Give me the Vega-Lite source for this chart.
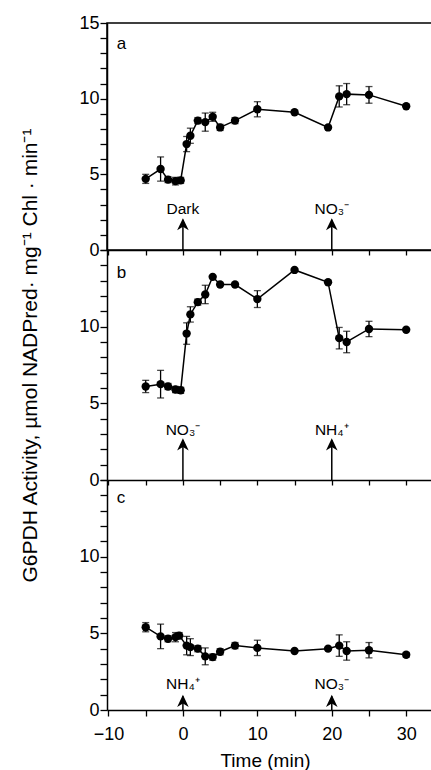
{
  "$schema": "https://vega.github.io/schema/vega-lite/v6.json",
  "padding": {"left": 18, "top": 13, "right": 0, "bottom": 0},
  "autosize": {"type": "pad"},
  "spacing": 0,
  "bounds": "flush",
  "config": {
    "view": {"stroke": null},
    "font": "Liberation Sans",
    "text": {"font": "Liberation Sans"},
    "axis": {"domainColor": "black", "tickColor": "black", "labelColor": "black", "titleColor": "black", "domainWidth": 1.5, "tickWidth": 1.3, "labelFont": "Liberation Sans", "titleFont": "Liberation Sans", "titleFontWeight": "normal", "grid": false}
  },
  "datasets": {
    "points": [
      {"panel": "a", "time": -5, "value": 4.7, "err": 0.3},
      {"panel": "a", "time": -3, "value": 5.35, "err": 0.8},
      {"panel": "a", "time": -2, "value": 4.65, "err": 0.2},
      {"panel": "a", "time": -1, "value": 4.55, "err": 0.25},
      {"panel": "a", "time": -0.3, "value": 4.6, "err": 0.2},
      {"panel": "a", "time": 0.5, "value": 7.0, "err": 0.5},
      {"panel": "a", "time": 1, "value": 7.55, "err": 0.5},
      {"panel": "a", "time": 2, "value": 8.55, "err": 0.2},
      {"panel": "a", "time": 3, "value": 8.45, "err": 0.6},
      {"panel": "a", "time": 4, "value": 8.8, "err": 0.3},
      {"panel": "a", "time": 5, "value": 8.1, "err": 0.2},
      {"panel": "a", "time": 7, "value": 8.55, "err": 0.2},
      {"panel": "a", "time": 10, "value": 9.3, "err": 0.5},
      {"panel": "a", "time": 15, "value": 9.1, "err": 0},
      {"panel": "a", "time": 19.5, "value": 8.1, "err": 0},
      {"panel": "a", "time": 21, "value": 10.15, "err": 0.7},
      {"panel": "a", "time": 22, "value": 10.3, "err": 0.7},
      {"panel": "a", "time": 25, "value": 10.25, "err": 0.55},
      {"panel": "a", "time": 30, "value": 9.5, "err": 0},
      {"panel": "b", "time": -5, "value": 6.1, "err": 0.4},
      {"panel": "b", "time": -3, "value": 6.25, "err": 0.9},
      {"panel": "b", "time": -2, "value": 6.1, "err": 0.2},
      {"panel": "b", "time": -1, "value": 5.9, "err": 0.2},
      {"panel": "b", "time": -0.3, "value": 5.85, "err": 0.2},
      {"panel": "b", "time": 0.5, "value": 9.55, "err": 0.7},
      {"panel": "b", "time": 1, "value": 10.8, "err": 0.5},
      {"panel": "b", "time": 2, "value": 11.6, "err": 0.2},
      {"panel": "b", "time": 3, "value": 12.1, "err": 0.6},
      {"panel": "b", "time": 4, "value": 13.25, "err": 0},
      {"panel": "b", "time": 5, "value": 12.75, "err": 0},
      {"panel": "b", "time": 7, "value": 12.75, "err": 0},
      {"panel": "b", "time": 10, "value": 11.8, "err": 0.55},
      {"panel": "b", "time": 15, "value": 13.7, "err": 0},
      {"panel": "b", "time": 19.5, "value": 12.9, "err": 0},
      {"panel": "b", "time": 21, "value": 9.25, "err": 0.7},
      {"panel": "b", "time": 22, "value": 9.0, "err": 0.7},
      {"panel": "b", "time": 25, "value": 9.85, "err": 0.5},
      {"panel": "b", "time": 30, "value": 9.8, "err": 0},
      {"panel": "c", "time": -5, "value": 5.4, "err": 0.3},
      {"panel": "c", "time": -3, "value": 4.8, "err": 0.8},
      {"panel": "c", "time": -2, "value": 4.65, "err": 0.2},
      {"panel": "c", "time": -1, "value": 4.75, "err": 0.3},
      {"panel": "c", "time": -0.5, "value": 4.85, "err": 0.2},
      {"panel": "c", "time": 0.5, "value": 4.2, "err": 0.6},
      {"panel": "c", "time": 1, "value": 4.1, "err": 0.55},
      {"panel": "c", "time": 2, "value": 4.0, "err": 0.2},
      {"panel": "c", "time": 3, "value": 3.5, "err": 0.55},
      {"panel": "c", "time": 4, "value": 3.45, "err": 0.2},
      {"panel": "c", "time": 5, "value": 3.8, "err": 0.2},
      {"panel": "c", "time": 7, "value": 4.2, "err": 0.2},
      {"panel": "c", "time": 10, "value": 4.05, "err": 0.5},
      {"panel": "c", "time": 15, "value": 3.85, "err": 0},
      {"panel": "c", "time": 19.5, "value": 4.0, "err": 0},
      {"panel": "c", "time": 21, "value": 4.2, "err": 0.7},
      {"panel": "c", "time": 22, "value": 3.85, "err": 0.6},
      {"panel": "c", "time": 25, "value": 3.9, "err": 0.5},
      {"panel": "c", "time": 30, "value": 3.6, "err": 0.15}
    ],
    "events": [
      {"panel": "a", "time": 0, "label": "Dark"},
      {"panel": "a", "time": 20, "label": "NO₃⁻"},
      {"panel": "b", "time": 0, "label": "NO₃⁻"},
      {"panel": "b", "time": 20, "label": "NH₄⁺"},
      {"panel": "c", "time": 0, "label": "NH₄⁺"},
      {"panel": "c", "time": 20, "label": "NO₃⁻"}
    ],
    "panels": [
      {"panel": "a", "letter": "a"},
      {"panel": "b", "letter": "b"},
      {"panel": "c", "letter": "c"}
    ]
  },
  "vconcat": [
    {
      "width": 326, "height": 227,
      "view": {"stroke": "black", "strokeWidth": 1.5},
      "layer": [
        {"data": {"name": "points"}, "transform": [{"filter": "datum.panel === 'a'"}], "mark": {"type": "line", "color": "black", "strokeWidth": 1.5},
          "encoding": {
            "x": {"field": "time", "type": "quantitative", "scale": {"domain": [-10.2, 33.6], "nice": false, "zero": false}, "axis": {"values": [-10, -5, 0, 5, 10, 15, 20, 25, 30], "labels": false, "title": null, "tickSize": 5, "encode": {"ticks": {"update": {"y2": {"signal": "datum.value % 10 === 0 ? -5 : -2"}}}}}},
            "y": {"field": "value", "type": "quantitative", "scale": {"domain": [0, 15], "nice": false}, "axis": {"values": [0, 1, 2, 3, 4, 5, 6, 7, 8, 9, 10, 11, 12, 13, 14, 15], "labelExpr": "datum.value % 5 === 0 ? datum.label : ''", "tickSize": 7, "labelPadding": 1, "labelFontSize": 18, "labelOverlap": false, "labelBound": false, "labelFlush": false, "title": null, "encode": {"ticks": {"update": {"x2": {"signal": "datum.value % 5 === 0 ? -7 : -4"}}}}}}
          }},
        {"data": {"name": "points"}, "transform": [{"filter": "datum.panel === 'a' && datum.err > 0"}], "mark": {"type": "errorbar", "color": "black", "thickness": 1.3, "ticks": {"size": 7, "thickness": 1.3, "color": "black"}},
          "encoding": {
            "x": {"field": "time", "type": "quantitative", "scale": {"domain": [-10.2, 33.6], "nice": false, "zero": false}, "axis": {"values": [-10, -5, 0, 5, 10, 15, 20, 25, 30], "labels": false, "title": null, "tickSize": 5, "encode": {"ticks": {"update": {"y2": {"signal": "datum.value % 10 === 0 ? -5 : -2"}}}}}},
            "y": {"field": "value", "type": "quantitative", "scale": {"domain": [0, 15], "nice": false}, "axis": {"values": [0, 1, 2, 3, 4, 5, 6, 7, 8, 9, 10, 11, 12, 13, 14, 15], "labelExpr": "datum.value % 5 === 0 ? datum.label : ''", "tickSize": 7, "labelPadding": 1, "labelFontSize": 18, "labelOverlap": false, "labelBound": false, "labelFlush": false, "title": null, "encode": {"ticks": {"update": {"x2": {"signal": "datum.value % 5 === 0 ? -7 : -4"}}}}}},
            "yError": {"field": "err"}
          }},
        {"data": {"name": "points"}, "transform": [{"filter": "datum.panel === 'a'"}], "mark": {"type": "point", "shape": "circle", "filled": true, "opacity": 1, "size": 70, "color": "black"},
          "encoding": {
            "x": {"field": "time", "type": "quantitative", "scale": {"domain": [-10.2, 33.6], "nice": false, "zero": false}, "axis": {"values": [-10, -5, 0, 5, 10, 15, 20, 25, 30], "labels": false, "title": null, "tickSize": 5, "encode": {"ticks": {"update": {"y2": {"signal": "datum.value % 10 === 0 ? -5 : -2"}}}}}},
            "y": {"field": "value", "type": "quantitative", "scale": {"domain": [0, 15], "nice": false}, "axis": {"values": [0, 1, 2, 3, 4, 5, 6, 7, 8, 9, 10, 11, 12, 13, 14, 15], "labelExpr": "datum.value % 5 === 0 ? datum.label : ''", "tickSize": 7, "labelPadding": 1, "labelFontSize": 18, "labelOverlap": false, "labelBound": false, "labelFlush": false, "title": null, "encode": {"ticks": {"update": {"x2": {"signal": "datum.value % 5 === 0 ? -7 : -4"}}}}}}
          }},
        {"data": {"name": "events"}, "transform": [{"filter": "datum.panel === 'a'"}], "mark": {"type": "rule", "color": "black", "strokeWidth": 1.5},
          "encoding": {
            "x": {"field": "time", "type": "quantitative", "scale": {"domain": [-10.2, 33.6], "nice": false, "zero": false}, "axis": {"values": [-10, -5, 0, 5, 10, 15, 20, 25, 30], "labels": false, "title": null, "tickSize": 5, "encode": {"ticks": {"update": {"y2": {"signal": "datum.value % 10 === 0 ? -5 : -2"}}}}}},
            "y": {"datum": 0, "type": "quantitative", "scale": {"domain": [0, 15], "nice": false}, "axis": {"values": [0, 1, 2, 3, 4, 5, 6, 7, 8, 9, 10, 11, 12, 13, 14, 15], "labelExpr": "datum.value % 5 === 0 ? datum.label : ''", "tickSize": 7, "labelPadding": 1, "labelFontSize": 18, "labelOverlap": false, "labelBound": false, "labelFlush": false, "title": null, "encode": {"ticks": {"update": {"x2": {"signal": "datum.value % 5 === 0 ? -7 : -4"}}}}}},
            "y2": {"datum": 2.0}
          }},
        {"data": {"name": "events"}, "transform": [{"filter": "datum.panel === 'a'"}], "mark": {"type": "point", "shape": "M0,-1L0.9,0.9L0,0.35L-0.9,0.9Z", "filled": true, "opacity": 1, "size": 165, "color": "black"},
          "encoding": {
            "x": {"field": "time", "type": "quantitative", "scale": {"domain": [-10.2, 33.6], "nice": false, "zero": false}, "axis": {"values": [-10, -5, 0, 5, 10, 15, 20, 25, 30], "labels": false, "title": null, "tickSize": 5, "encode": {"ticks": {"update": {"y2": {"signal": "datum.value % 10 === 0 ? -5 : -2"}}}}}},
            "y": {"datum": 1.68, "type": "quantitative", "scale": {"domain": [0, 15], "nice": false}, "axis": {"values": [0, 1, 2, 3, 4, 5, 6, 7, 8, 9, 10, 11, 12, 13, 14, 15], "labelExpr": "datum.value % 5 === 0 ? datum.label : ''", "tickSize": 7, "labelPadding": 1, "labelFontSize": 18, "labelOverlap": false, "labelBound": false, "labelFlush": false, "title": null, "encode": {"ticks": {"update": {"x2": {"signal": "datum.value % 5 === 0 ? -7 : -4"}}}}}}
          }},
        {"data": {"name": "events"}, "transform": [{"filter": "datum.panel === 'a'"}], "mark": {"type": "text", "fontSize": 15.5, "align": "center", "baseline": "alphabetic", "color": "black"},
          "encoding": {
            "x": {"field": "time", "type": "quantitative", "scale": {"domain": [-10.2, 33.6], "nice": false, "zero": false}, "axis": {"values": [-10, -5, 0, 5, 10, 15, 20, 25, 30], "labels": false, "title": null, "tickSize": 5, "encode": {"ticks": {"update": {"y2": {"signal": "datum.value % 10 === 0 ? -5 : -2"}}}}}},
            "y": {"datum": 2.35, "type": "quantitative", "scale": {"domain": [0, 15], "nice": false}, "axis": {"values": [0, 1, 2, 3, 4, 5, 6, 7, 8, 9, 10, 11, 12, 13, 14, 15], "labelExpr": "datum.value % 5 === 0 ? datum.label : ''", "tickSize": 7, "labelPadding": 1, "labelFontSize": 18, "labelOverlap": false, "labelBound": false, "labelFlush": false, "title": null, "encode": {"ticks": {"update": {"x2": {"signal": "datum.value % 5 === 0 ? -7 : -4"}}}}}},
            "text": {"field": "label"}
          }},
        {"data": {"name": "panels"}, "transform": [{"filter": "datum.panel === 'a'"}], "mark": {"type": "text", "fontSize": 17, "align": "left", "baseline": "alphabetic", "color": "black"},
          "encoding": {
            "x": {"datum": -8.9, "type": "quantitative", "scale": {"domain": [-10.2, 33.6], "nice": false, "zero": false}, "axis": {"values": [-10, -5, 0, 5, 10, 15, 20, 25, 30], "labels": false, "title": null, "tickSize": 5, "encode": {"ticks": {"update": {"y2": {"signal": "datum.value % 10 === 0 ? -5 : -2"}}}}}},
            "y": {"datum": 13.3, "type": "quantitative", "scale": {"domain": [0, 15], "nice": false}, "axis": {"values": [0, 1, 2, 3, 4, 5, 6, 7, 8, 9, 10, 11, 12, 13, 14, 15], "labelExpr": "datum.value % 5 === 0 ? datum.label : ''", "tickSize": 7, "labelPadding": 1, "labelFontSize": 18, "labelOverlap": false, "labelBound": false, "labelFlush": false, "title": null, "encode": {"ticks": {"update": {"x2": {"signal": "datum.value % 5 === 0 ? -7 : -4"}}}}}},
            "text": {"field": "letter"}
          }}
      ]
    },
    {
      "width": 326, "height": 230,
      "layer": [
        {"data": {"name": "points"}, "transform": [{"filter": "datum.panel === 'b'"}], "mark": {"type": "line", "color": "black", "strokeWidth": 1.5},
          "encoding": {
            "x": {"field": "time", "type": "quantitative", "scale": {"domain": [-10.2, 33.6], "nice": false, "zero": false}, "axis": {"values": [-10, -5, 0, 5, 10, 15, 20, 25, 30], "labels": false, "title": null, "tickSize": 5, "encode": {"ticks": {"update": {"y2": {"signal": "datum.value % 10 === 0 ? -5 : -2"}}}}}},
            "y": {"field": "value", "type": "quantitative", "scale": {"domain": [0, 15], "nice": false}, "axis": {"values": [0, 1, 2, 3, 4, 5, 6, 7, 8, 9, 10, 11, 12, 13, 14, 15], "labelExpr": "datum.value % 5 === 0 && datum.value < 15 ? datum.label : ''", "tickSize": 7, "labelPadding": 1, "labelFontSize": 18, "labelOverlap": false, "labelBound": false, "labelFlush": false, "title": "G6PDH Activity, µmol NADPred· mg⁻¹ Chl · min⁻¹", "titleFontSize": 21, "titleAngle": 270, "titleBaseline": "bottom", "titleAlign": "center", "titleX": -67, "titleY": 105, "encode": {"ticks": {"update": {"x2": {"signal": "datum.value % 5 === 0 ? -7 : -4"}}}}}}
          }},
        {"data": {"name": "points"}, "transform": [{"filter": "datum.panel === 'b' && datum.err > 0"}], "mark": {"type": "errorbar", "color": "black", "thickness": 1.3, "ticks": {"size": 7, "thickness": 1.3, "color": "black"}},
          "encoding": {
            "x": {"field": "time", "type": "quantitative", "scale": {"domain": [-10.2, 33.6], "nice": false, "zero": false}, "axis": {"values": [-10, -5, 0, 5, 10, 15, 20, 25, 30], "labels": false, "title": null, "tickSize": 5, "encode": {"ticks": {"update": {"y2": {"signal": "datum.value % 10 === 0 ? -5 : -2"}}}}}},
            "y": {"field": "value", "type": "quantitative", "scale": {"domain": [0, 15], "nice": false}, "axis": {"values": [0, 1, 2, 3, 4, 5, 6, 7, 8, 9, 10, 11, 12, 13, 14, 15], "labelExpr": "datum.value % 5 === 0 && datum.value < 15 ? datum.label : ''", "tickSize": 7, "labelPadding": 1, "labelFontSize": 18, "labelOverlap": false, "labelBound": false, "labelFlush": false, "title": "G6PDH Activity, µmol NADPred· mg⁻¹ Chl · min⁻¹", "titleFontSize": 21, "titleAngle": 270, "titleBaseline": "bottom", "titleAlign": "center", "titleX": -67, "titleY": 105, "encode": {"ticks": {"update": {"x2": {"signal": "datum.value % 5 === 0 ? -7 : -4"}}}}}},
            "yError": {"field": "err"}
          }},
        {"data": {"name": "points"}, "transform": [{"filter": "datum.panel === 'b'"}], "mark": {"type": "point", "shape": "circle", "filled": true, "opacity": 1, "size": 70, "color": "black"},
          "encoding": {
            "x": {"field": "time", "type": "quantitative", "scale": {"domain": [-10.2, 33.6], "nice": false, "zero": false}, "axis": {"values": [-10, -5, 0, 5, 10, 15, 20, 25, 30], "labels": false, "title": null, "tickSize": 5, "encode": {"ticks": {"update": {"y2": {"signal": "datum.value % 10 === 0 ? -5 : -2"}}}}}},
            "y": {"field": "value", "type": "quantitative", "scale": {"domain": [0, 15], "nice": false}, "axis": {"values": [0, 1, 2, 3, 4, 5, 6, 7, 8, 9, 10, 11, 12, 13, 14, 15], "labelExpr": "datum.value % 5 === 0 && datum.value < 15 ? datum.label : ''", "tickSize": 7, "labelPadding": 1, "labelFontSize": 18, "labelOverlap": false, "labelBound": false, "labelFlush": false, "title": "G6PDH Activity, µmol NADPred· mg⁻¹ Chl · min⁻¹", "titleFontSize": 21, "titleAngle": 270, "titleBaseline": "bottom", "titleAlign": "center", "titleX": -67, "titleY": 105, "encode": {"ticks": {"update": {"x2": {"signal": "datum.value % 5 === 0 ? -7 : -4"}}}}}}
          }},
        {"data": {"name": "events"}, "transform": [{"filter": "datum.panel === 'b'"}], "mark": {"type": "rule", "color": "black", "strokeWidth": 1.5},
          "encoding": {
            "x": {"field": "time", "type": "quantitative", "scale": {"domain": [-10.2, 33.6], "nice": false, "zero": false}, "axis": {"values": [-10, -5, 0, 5, 10, 15, 20, 25, 30], "labels": false, "title": null, "tickSize": 5, "encode": {"ticks": {"update": {"y2": {"signal": "datum.value % 10 === 0 ? -5 : -2"}}}}}},
            "y": {"datum": 0, "type": "quantitative", "scale": {"domain": [0, 15], "nice": false}, "axis": {"values": [0, 1, 2, 3, 4, 5, 6, 7, 8, 9, 10, 11, 12, 13, 14, 15], "labelExpr": "datum.value % 5 === 0 && datum.value < 15 ? datum.label : ''", "tickSize": 7, "labelPadding": 1, "labelFontSize": 18, "labelOverlap": false, "labelBound": false, "labelFlush": false, "title": "G6PDH Activity, µmol NADPred· mg⁻¹ Chl · min⁻¹", "titleFontSize": 21, "titleAngle": 270, "titleBaseline": "bottom", "titleAlign": "center", "titleX": -67, "titleY": 105, "encode": {"ticks": {"update": {"x2": {"signal": "datum.value % 5 === 0 ? -7 : -4"}}}}}},
            "y2": {"datum": 2.6}
          }},
        {"data": {"name": "events"}, "transform": [{"filter": "datum.panel === 'b'"}], "mark": {"type": "point", "shape": "M0,-1L0.9,0.9L0,0.35L-0.9,0.9Z", "filled": true, "opacity": 1, "size": 165, "color": "black"},
          "encoding": {
            "x": {"field": "time", "type": "quantitative", "scale": {"domain": [-10.2, 33.6], "nice": false, "zero": false}, "axis": {"values": [-10, -5, 0, 5, 10, 15, 20, 25, 30], "labels": false, "title": null, "tickSize": 5, "encode": {"ticks": {"update": {"y2": {"signal": "datum.value % 10 === 0 ? -5 : -2"}}}}}},
            "y": {"datum": 2.3, "type": "quantitative", "scale": {"domain": [0, 15], "nice": false}, "axis": {"values": [0, 1, 2, 3, 4, 5, 6, 7, 8, 9, 10, 11, 12, 13, 14, 15], "labelExpr": "datum.value % 5 === 0 && datum.value < 15 ? datum.label : ''", "tickSize": 7, "labelPadding": 1, "labelFontSize": 18, "labelOverlap": false, "labelBound": false, "labelFlush": false, "title": "G6PDH Activity, µmol NADPred· mg⁻¹ Chl · min⁻¹", "titleFontSize": 21, "titleAngle": 270, "titleBaseline": "bottom", "titleAlign": "center", "titleX": -67, "titleY": 105, "encode": {"ticks": {"update": {"x2": {"signal": "datum.value % 5 === 0 ? -7 : -4"}}}}}}
          }},
        {"data": {"name": "events"}, "transform": [{"filter": "datum.panel === 'b'"}], "mark": {"type": "text", "fontSize": 15.5, "align": "center", "baseline": "alphabetic", "color": "black"},
          "encoding": {
            "x": {"field": "time", "type": "quantitative", "scale": {"domain": [-10.2, 33.6], "nice": false, "zero": false}, "axis": {"values": [-10, -5, 0, 5, 10, 15, 20, 25, 30], "labels": false, "title": null, "tickSize": 5, "encode": {"ticks": {"update": {"y2": {"signal": "datum.value % 10 === 0 ? -5 : -2"}}}}}},
            "y": {"datum": 2.95, "type": "quantitative", "scale": {"domain": [0, 15], "nice": false}, "axis": {"values": [0, 1, 2, 3, 4, 5, 6, 7, 8, 9, 10, 11, 12, 13, 14, 15], "labelExpr": "datum.value % 5 === 0 && datum.value < 15 ? datum.label : ''", "tickSize": 7, "labelPadding": 1, "labelFontSize": 18, "labelOverlap": false, "labelBound": false, "labelFlush": false, "title": "G6PDH Activity, µmol NADPred· mg⁻¹ Chl · min⁻¹", "titleFontSize": 21, "titleAngle": 270, "titleBaseline": "bottom", "titleAlign": "center", "titleX": -67, "titleY": 105, "encode": {"ticks": {"update": {"x2": {"signal": "datum.value % 5 === 0 ? -7 : -4"}}}}}},
            "text": {"field": "label"}
          }},
        {"data": {"name": "panels"}, "transform": [{"filter": "datum.panel === 'b'"}], "mark": {"type": "text", "fontSize": 17, "align": "left", "baseline": "alphabetic", "color": "black"},
          "encoding": {
            "x": {"datum": -8.9, "type": "quantitative", "scale": {"domain": [-10.2, 33.6], "nice": false, "zero": false}, "axis": {"values": [-10, -5, 0, 5, 10, 15, 20, 25, 30], "labels": false, "title": null, "tickSize": 5, "encode": {"ticks": {"update": {"y2": {"signal": "datum.value % 10 === 0 ? -5 : -2"}}}}}},
            "y": {"datum": 13.2, "type": "quantitative", "scale": {"domain": [0, 15], "nice": false}, "axis": {"values": [0, 1, 2, 3, 4, 5, 6, 7, 8, 9, 10, 11, 12, 13, 14, 15], "labelExpr": "datum.value % 5 === 0 && datum.value < 15 ? datum.label : ''", "tickSize": 7, "labelPadding": 1, "labelFontSize": 18, "labelOverlap": false, "labelBound": false, "labelFlush": false, "title": "G6PDH Activity, µmol NADPred· mg⁻¹ Chl · min⁻¹", "titleFontSize": 21, "titleAngle": 270, "titleBaseline": "bottom", "titleAlign": "center", "titleX": -67, "titleY": 105, "encode": {"ticks": {"update": {"x2": {"signal": "datum.value % 5 === 0 ? -7 : -4"}}}}}},
            "text": {"field": "letter"}
          }}
      ]
    },
    {
      "width": 326, "height": 230,
      "layer": [
        {"data": {"name": "points"}, "transform": [{"filter": "datum.panel === 'c'"}], "mark": {"type": "line", "color": "black", "strokeWidth": 1.5},
          "encoding": {
            "x": {"field": "time", "type": "quantitative", "scale": {"domain": [-10.2, 33.6], "nice": false, "zero": false}, "axis": {"values": [-10, -5, 0, 5, 10, 15, 20, 25, 30], "labelExpr": "datum.value % 10 === 0 ? datum.label : ''", "labelFontSize": 18, "labelPadding": 23, "labelBaseline": "alphabetic", "labelOverlap": false, "labelFlush": false, "tickSize": 6, "title": "Time (min)", "titleFontSize": 19, "titleX": 158, "titleY": 56.5, "titleBaseline": "alphabetic", "titleAlign": "center", "encode": {"ticks": {"update": {"y2": {"signal": "datum.value % 10 === 0 ? 6 : 3"}}}}}},
            "y": {"field": "value", "type": "quantitative", "scale": {"domain": [0, 15], "nice": false}, "axis": {"values": [0, 1, 2, 3, 4, 5, 6, 7, 8, 9, 10, 11, 12, 13, 14, 15], "labelExpr": "datum.value % 5 === 0 && datum.value < 15 ? datum.label : ''", "tickSize": 7, "labelPadding": 1, "labelFontSize": 18, "labelOverlap": false, "labelBound": false, "labelFlush": false, "title": null, "encode": {"ticks": {"update": {"x2": {"signal": "datum.value % 5 === 0 ? -7 : -4"}}}}}}
          }},
        {"data": {"name": "points"}, "transform": [{"filter": "datum.panel === 'c' && datum.err > 0"}], "mark": {"type": "errorbar", "color": "black", "thickness": 1.3, "ticks": {"size": 7, "thickness": 1.3, "color": "black"}},
          "encoding": {
            "x": {"field": "time", "type": "quantitative", "scale": {"domain": [-10.2, 33.6], "nice": false, "zero": false}, "axis": {"values": [-10, -5, 0, 5, 10, 15, 20, 25, 30], "labelExpr": "datum.value % 10 === 0 ? datum.label : ''", "labelFontSize": 18, "labelPadding": 23, "labelBaseline": "alphabetic", "labelOverlap": false, "labelFlush": false, "tickSize": 6, "title": "Time (min)", "titleFontSize": 19, "titleX": 158, "titleY": 56.5, "titleBaseline": "alphabetic", "titleAlign": "center", "encode": {"ticks": {"update": {"y2": {"signal": "datum.value % 10 === 0 ? 6 : 3"}}}}}},
            "y": {"field": "value", "type": "quantitative", "scale": {"domain": [0, 15], "nice": false}, "axis": {"values": [0, 1, 2, 3, 4, 5, 6, 7, 8, 9, 10, 11, 12, 13, 14, 15], "labelExpr": "datum.value % 5 === 0 && datum.value < 15 ? datum.label : ''", "tickSize": 7, "labelPadding": 1, "labelFontSize": 18, "labelOverlap": false, "labelBound": false, "labelFlush": false, "title": null, "encode": {"ticks": {"update": {"x2": {"signal": "datum.value % 5 === 0 ? -7 : -4"}}}}}},
            "yError": {"field": "err"}
          }},
        {"data": {"name": "points"}, "transform": [{"filter": "datum.panel === 'c'"}], "mark": {"type": "point", "shape": "circle", "filled": true, "opacity": 1, "size": 70, "color": "black"},
          "encoding": {
            "x": {"field": "time", "type": "quantitative", "scale": {"domain": [-10.2, 33.6], "nice": false, "zero": false}, "axis": {"values": [-10, -5, 0, 5, 10, 15, 20, 25, 30], "labelExpr": "datum.value % 10 === 0 ? datum.label : ''", "labelFontSize": 18, "labelPadding": 23, "labelBaseline": "alphabetic", "labelOverlap": false, "labelFlush": false, "tickSize": 6, "title": "Time (min)", "titleFontSize": 19, "titleX": 158, "titleY": 56.5, "titleBaseline": "alphabetic", "titleAlign": "center", "encode": {"ticks": {"update": {"y2": {"signal": "datum.value % 10 === 0 ? 6 : 3"}}}}}},
            "y": {"field": "value", "type": "quantitative", "scale": {"domain": [0, 15], "nice": false}, "axis": {"values": [0, 1, 2, 3, 4, 5, 6, 7, 8, 9, 10, 11, 12, 13, 14, 15], "labelExpr": "datum.value % 5 === 0 && datum.value < 15 ? datum.label : ''", "tickSize": 7, "labelPadding": 1, "labelFontSize": 18, "labelOverlap": false, "labelBound": false, "labelFlush": false, "title": null, "encode": {"ticks": {"update": {"x2": {"signal": "datum.value % 5 === 0 ? -7 : -4"}}}}}}
          }},
        {"data": {"name": "events"}, "transform": [{"filter": "datum.panel === 'c'"}], "mark": {"type": "rule", "color": "black", "strokeWidth": 1.5},
          "encoding": {
            "x": {"field": "time", "type": "quantitative", "scale": {"domain": [-10.2, 33.6], "nice": false, "zero": false}, "axis": {"values": [-10, -5, 0, 5, 10, 15, 20, 25, 30], "labelExpr": "datum.value % 10 === 0 ? datum.label : ''", "labelFontSize": 18, "labelPadding": 23, "labelBaseline": "alphabetic", "labelOverlap": false, "labelFlush": false, "tickSize": 6, "title": "Time (min)", "titleFontSize": 19, "titleX": 158, "titleY": 56.5, "titleBaseline": "alphabetic", "titleAlign": "center", "encode": {"ticks": {"update": {"y2": {"signal": "datum.value % 10 === 0 ? 6 : 3"}}}}}},
            "y": {"datum": 0, "type": "quantitative", "scale": {"domain": [0, 15], "nice": false}, "axis": {"values": [0, 1, 2, 3, 4, 5, 6, 7, 8, 9, 10, 11, 12, 13, 14, 15], "labelExpr": "datum.value % 5 === 0 && datum.value < 15 ? datum.label : ''", "tickSize": 7, "labelPadding": 1, "labelFontSize": 18, "labelOverlap": false, "labelBound": false, "labelFlush": false, "title": null, "encode": {"ticks": {"update": {"x2": {"signal": "datum.value % 5 === 0 ? -7 : -4"}}}}}},
            "y2": {"datum": 0.9}
          }},
        {"data": {"name": "events"}, "transform": [{"filter": "datum.panel === 'c'"}], "mark": {"type": "point", "shape": "M0,-1L0.9,0.9L0,0.35L-0.9,0.9Z", "filled": true, "opacity": 1, "size": 165, "color": "black"},
          "encoding": {
            "x": {"field": "time", "type": "quantitative", "scale": {"domain": [-10.2, 33.6], "nice": false, "zero": false}, "axis": {"values": [-10, -5, 0, 5, 10, 15, 20, 25, 30], "labelExpr": "datum.value % 10 === 0 ? datum.label : ''", "labelFontSize": 18, "labelPadding": 23, "labelBaseline": "alphabetic", "labelOverlap": false, "labelFlush": false, "tickSize": 6, "title": "Time (min)", "titleFontSize": 19, "titleX": 158, "titleY": 56.5, "titleBaseline": "alphabetic", "titleAlign": "center", "encode": {"ticks": {"update": {"y2": {"signal": "datum.value % 10 === 0 ? 6 : 3"}}}}}},
            "y": {"datum": 0.57, "type": "quantitative", "scale": {"domain": [0, 15], "nice": false}, "axis": {"values": [0, 1, 2, 3, 4, 5, 6, 7, 8, 9, 10, 11, 12, 13, 14, 15], "labelExpr": "datum.value % 5 === 0 && datum.value < 15 ? datum.label : ''", "tickSize": 7, "labelPadding": 1, "labelFontSize": 18, "labelOverlap": false, "labelBound": false, "labelFlush": false, "title": null, "encode": {"ticks": {"update": {"x2": {"signal": "datum.value % 5 === 0 ? -7 : -4"}}}}}}
          }},
        {"data": {"name": "events"}, "transform": [{"filter": "datum.panel === 'c'"}], "mark": {"type": "text", "fontSize": 15.5, "align": "center", "baseline": "alphabetic", "color": "black"},
          "encoding": {
            "x": {"field": "time", "type": "quantitative", "scale": {"domain": [-10.2, 33.6], "nice": false, "zero": false}, "axis": {"values": [-10, -5, 0, 5, 10, 15, 20, 25, 30], "labelExpr": "datum.value % 10 === 0 ? datum.label : ''", "labelFontSize": 18, "labelPadding": 23, "labelBaseline": "alphabetic", "labelOverlap": false, "labelFlush": false, "tickSize": 6, "title": "Time (min)", "titleFontSize": 19, "titleX": 158, "titleY": 56.5, "titleBaseline": "alphabetic", "titleAlign": "center", "encode": {"ticks": {"update": {"y2": {"signal": "datum.value % 10 === 0 ? 6 : 3"}}}}}},
            "y": {"datum": 1.4, "type": "quantitative", "scale": {"domain": [0, 15], "nice": false}, "axis": {"values": [0, 1, 2, 3, 4, 5, 6, 7, 8, 9, 10, 11, 12, 13, 14, 15], "labelExpr": "datum.value % 5 === 0 && datum.value < 15 ? datum.label : ''", "tickSize": 7, "labelPadding": 1, "labelFontSize": 18, "labelOverlap": false, "labelBound": false, "labelFlush": false, "title": null, "encode": {"ticks": {"update": {"x2": {"signal": "datum.value % 5 === 0 ? -7 : -4"}}}}}},
            "text": {"field": "label"}
          }},
        {"data": {"name": "panels"}, "transform": [{"filter": "datum.panel === 'c'"}], "mark": {"type": "text", "fontSize": 17, "align": "left", "baseline": "alphabetic", "color": "black"},
          "encoding": {
            "x": {"datum": -8.9, "type": "quantitative", "scale": {"domain": [-10.2, 33.6], "nice": false, "zero": false}, "axis": {"values": [-10, -5, 0, 5, 10, 15, 20, 25, 30], "labelExpr": "datum.value % 10 === 0 ? datum.label : ''", "labelFontSize": 18, "labelPadding": 23, "labelBaseline": "alphabetic", "labelOverlap": false, "labelFlush": false, "tickSize": 6, "title": "Time (min)", "titleFontSize": 19, "titleX": 158, "titleY": 56.5, "titleBaseline": "alphabetic", "titleAlign": "center", "encode": {"ticks": {"update": {"y2": {"signal": "datum.value % 10 === 0 ? 6 : 3"}}}}}},
            "y": {"datum": 13.5, "type": "quantitative", "scale": {"domain": [0, 15], "nice": false}, "axis": {"values": [0, 1, 2, 3, 4, 5, 6, 7, 8, 9, 10, 11, 12, 13, 14, 15], "labelExpr": "datum.value % 5 === 0 && datum.value < 15 ? datum.label : ''", "tickSize": 7, "labelPadding": 1, "labelFontSize": 18, "labelOverlap": false, "labelBound": false, "labelFlush": false, "title": null, "encode": {"ticks": {"update": {"x2": {"signal": "datum.value % 5 === 0 ? -7 : -4"}}}}}},
            "text": {"field": "letter"}
          }}
      ]
    }
  ]
}
